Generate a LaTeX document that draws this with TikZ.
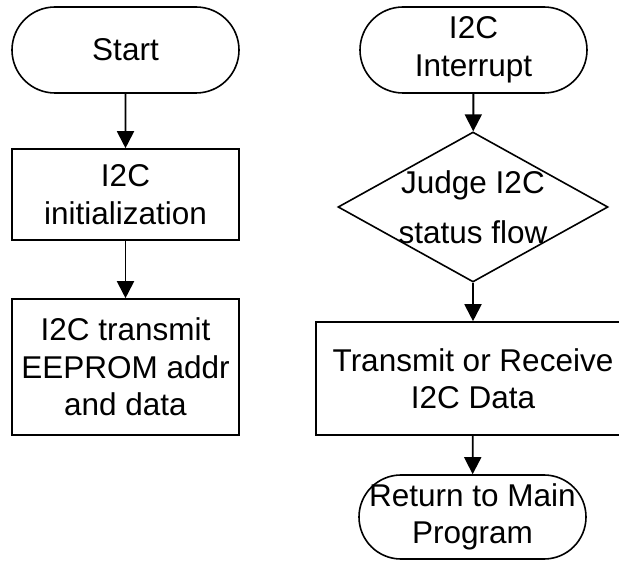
\documentclass[tikz,border=0pt]{standalone}
\usepackage{fontspec}
\setmainfont{Liberation Sans}
\usetikzlibrary{shapes.geometric,shapes.misc,arrows.meta}
\begin{document}
\begin{tikzpicture}[x=1pt,y=-1pt,
  every node/.style={font=\fontsize{31.5}{37.5}\selectfont, align=center, inner sep=0pt},
  terminal/.style={draw, line width=1.6pt, rounded rectangle, minimum width=227pt, minimum height=86pt},
  process/.style={draw, line width=1.6pt, rectangle, minimum width=227pt},
  decision/.style={draw, line width=1.6pt, diamond, minimum width=270pt, minimum height=150pt},
  flow/.style={line width=1.9pt, -{Triangle[length=17pt,width=17pt]}}]
  \useasboundingbox (0,0) rectangle (619,561);
  \clip (0,0) rectangle (619,561);

  % left column: main program
  \node[terminal] (start) at (125.5,50) {Start};
  \node[process, minimum height=91pt] (init) at (125.5,194.5) {I2C\\initialization};
  \node[process, minimum height=136pt] (send) at (125.5,367) {I2C transmit\\EEPROM addr\\and data};

  % right column: interrupt handler
  \node[terminal] (irq) at (473.5,50) {I2C\\Interrupt};
  \node[decision, label={[align=center]center:Judge I2C\\[12pt]status flow}] (judge) at (473,207) {};
  \node[process, minimum width=314pt, minimum height=113pt] (xfer) at (473,378.5)
    {\fontsize{31.5}{42}\selectfont Transmit or Receive\\I2C Data};
  \node[terminal, minimum height=84pt, label={[align=center]center:Return to Main\\Program}] (ret) at (472.5,517) {};

  \draw[flow] (start) -- (init);
  \draw[flow] (init) -- (send);
  \draw[flow] (irq) -- (judge);
  \draw[flow] (judge) -- (xfer);
  \draw[flow] (xfer) -- (ret);
\end{tikzpicture}
\end{document}
